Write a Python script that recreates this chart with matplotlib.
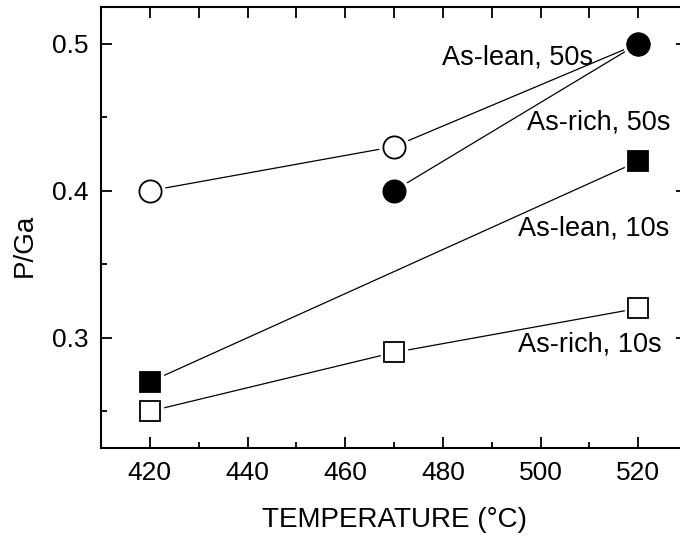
import numpy as np
import matplotlib.pyplot as plt
from matplotlib.ticker import MultipleLocator

plt.rcParams['font.family'] = ['Liberation Sans', 'DejaVu Sans']

# data
temp_rich_50 = [420, 470, 520]
pga_rich_50 = [0.40, 0.43, 0.50]
temp_lean_50 = [470, 520]
pga_lean_50 = [0.40, 0.50]
temp_lean_10 = [420, 520]
pga_lean_10 = [0.27, 0.42]
temp_rich_10 = [420, 470, 520]
pga_rich_10 = [0.25, 0.29, 0.32]

series = [
    (temp_rich_50, pga_rich_50, 'o', 'white', 16),
    (temp_lean_50, pga_lean_50, 'o', 'black', 16),
    (temp_lean_10, pga_lean_10, 's', 'black', 13.7),
    (temp_rich_10, pga_rich_10, 's', 'white', 13.7),
]

labels = ['As-lean, 50s', 'As-rich, 50s', 'As-lean, 10s', 'As-rich, 10s']
label_x = [479.8, 497.3, 495.4, 495.4]
label_y = [0.4857, 0.4415, 0.3694, 0.2905]

fig = plt.figure(figsize=(6.8, 5.36), dpi=100)
ax = fig.add_axes([101/680, 88/536, 586/680, 441/536])

for xs, ys, m, fc, ms in series:
    ax.plot(xs, ys, '-', color='black', lw=0.9, zorder=2)
for xs, ys, m, fc, ms in series:
    # white halo so lines stop short of the symbols
    ax.plot(xs, ys, ls='none', marker=m, ms=ms + 5, mfc='white', mec='white', zorder=3)
for xs, ys, m, fc, ms in series:
    ax.plot(xs, ys, ls='none', marker=m, ms=ms, mfc=fc, mec='black', mew=1.3, zorder=4)

for t, x, y in zip(labels, label_x, label_y):
    ax.text(x, y, t, fontsize=19.5, va='baseline', ha='left', zorder=5)

ax.set_xlim(410, 530)
ax.set_ylim(0.225, 0.525)
ax.xaxis.set_major_locator(MultipleLocator(20))
ax.xaxis.set_minor_locator(MultipleLocator(10))
ax.yaxis.set_major_locator(MultipleLocator(0.1))
ax.yaxis.set_minor_locator(MultipleLocator(0.05))

ax.tick_params(which='both', direction='in', top=True, right=True, width=1.3, labelsize=19)
ax.tick_params(which='major', length=8, pad=9)
ax.tick_params(which='minor', length=4)
ax.tick_params(axis='x', which='minor', top=False)
for sp in ax.spines.values():
    sp.set_linewidth(1.5)

# top axis: ticks every 10 with equal length
sec = ax.secondary_xaxis('top')
sec.set_xticks(np.arange(420, 530, 10))
sec.tick_params(direction='in', length=8, width=1.3, labeltop=False)
sec.spines['top'].set_visible(False)
ax.tick_params(axis='x', which='major', top=False)

ax.set_xlabel('TEMPERATURE (°C)', fontsize=20, labelpad=16)
ax.set_ylabel('P/Ga', fontsize=20)
ax.yaxis.set_label_coords(-0.108, 0.46)

fig.savefig('out.png', dpi=100)
